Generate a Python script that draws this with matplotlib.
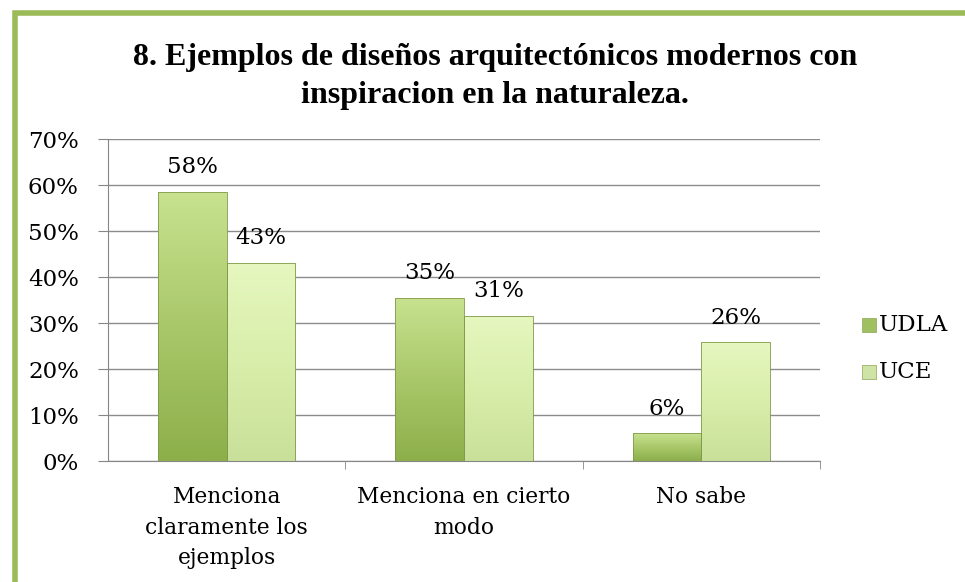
import numpy as np
import matplotlib.pyplot as plt
from matplotlib.patches import Rectangle
from matplotlib.colors import LinearSegmentedColormap

categories = ['Menciona\nclaramente los\nejemplos', 'Menciona en cierto\nmodo', 'No sabe']
udla = [0.585, 0.355, 0.06]
uce = [0.43, 0.315, 0.258]
udla_labels = ['58%', '35%', '6%']
uce_labels = ['43%', '31%', '26%']

serif = ['DejaVu Serif']
fig = plt.figure(figsize=(9.65, 5.82), dpi=100)
fig.patches.append(Rectangle((14.5 / 965, -0.05), 1.0, 1 - 12.5 / 582 + 0.05, transform=fig.transFigure,
                             fill=False, edgecolor='#9BBB59', linewidth=4, zorder=10))

ax = fig.add_axes([108 / 965, 1 - 461 / 582, (820 - 108) / 965, (461 - 139) / 582])
ax.set_xlim(-0.5, 2.5)
ax.set_ylim(0, 0.7)

cmap_udla = LinearSegmentedColormap.from_list('udla', ['#8daf4a', '#a9c86a', '#c8e28f'])
cmap_uce = LinearSegmentedColormap.from_list('uce', ['#c9e09a', '#d8eeaa', '#e6f7bf'])
grad = np.linspace(0, 1, 256).reshape(-1, 1)

w = 0.29
x = np.arange(len(categories))
for xs, vals, cm in [(x - w / 2, udla, cmap_udla), (x + w / 2, uce, cmap_uce)]:
    bars = ax.bar(xs, vals, width=w, color='none', edgecolor='#7f9a4a', linewidth=0.6, zorder=3)
    for b in bars:
        x0, y0 = b.get_x(), b.get_y()
        im = ax.imshow(grad, extent=[x0, x0 + b.get_width(), y0, y0 + b.get_height()],
                       origin='lower', aspect='auto', cmap=cm, zorder=2)
        im.set_clip_path(b)

for xi, v, lab in zip(x - w / 2, udla, udla_labels):
    ax.text(xi, v + 0.03, lab, ha='center', va='bottom', fontsize=16.5, family=serif)
for xi, v, lab in zip(x + w / 2, uce, uce_labels):
    ax.text(xi, v + 0.03, lab, ha='center', va='bottom', fontsize=16.5, family=serif)

ax.set_yticks(np.arange(0, 0.71, 0.1))
ax.set_yticklabels([f'{int(round(t * 100))}%' for t in np.arange(0, 0.71, 0.1)], fontsize=16.5, family=serif)
ax.set_xticks(x)
ax.set_xticklabels(categories, fontsize=15.7, family=serif, linespacing=1.5)
ax.set_xticks([0.5, 1.5, 2.5], minor=True)
ax.tick_params(axis='x', which='major', length=0, pad=18)
ax.tick_params(axis='x', which='minor', length=6, color='#868686')
ax.tick_params(axis='y', length=7, color='#868686', pad=14)
ax.yaxis.grid(True, color='#8c8c8c', linewidth=1.0, zorder=0)
ax.set_axisbelow(True)
for s in ['top', 'right']:
    ax.spines[s].set_visible(False)
for s in ['left', 'bottom']:
    ax.spines[s].set_color('#868686')

fig.text(495 / 965, 1 - 58 / 582, '8. Ejemplos de diseños arquitectónicos modernos con',
         ha='center', va='center', fontsize=23, fontweight='bold', family=['Liberation Serif'])
fig.text(495 / 965, 1 - 96 / 582, 'inspiracion en la naturaleza.',
         ha='center', va='center', fontsize=23, fontweight='bold', family=['Liberation Serif'])

for yy, lab, c in [(325, 'UDLA', '#9fbf60'), (372, 'UCE', '#cfe3a6')]:
    fig.patches.append(Rectangle((862 / 965, 1 - (yy + 7) / 582), 14 / 965, 14 / 582,
                                 transform=fig.transFigure, facecolor=c, edgecolor='#8aa655', linewidth=0.5))
    fig.text(879 / 965, 1 - yy / 582, lab, ha='left', va='center', fontsize=16.5, family=serif)

fig.savefig('out.png', dpi=100)
